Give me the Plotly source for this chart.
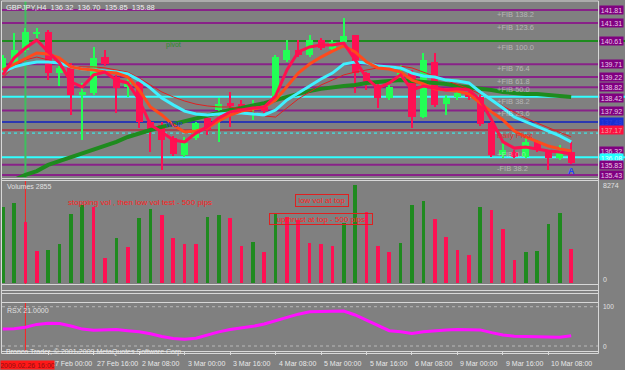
import plotly.graph_objects as go

W, H = 625, 370

# ---------------- data ----------------
bars = list(range(51))
opens = [139.41, 139.68, 140.26, 140.88, 140.96, 139.37, 139.68, 138.52, 138.60, 139.99,
         139.22, 138.83, 139.03, 137.48, 137.36, 136.86, 136.20, 136.86, 137.63, 137.94,
         138.21, 138.17, 138.02, 138.06, 138.33, 139.88, 140.26, 140.07, 140.65, 140.30,
         140.57, 140.84, 139.37, 138.91, 138.41, 139.10, 139.37, 137.67, 139.80, 138.17,
         138.45, 138.60, 138.45, 137.44, 136.20, 136.32, 136.13, 136.71, 136.32, 136.09,
         136.32]
highs = [140.07, 140.92, 141.11, 141.11, 141.04, 139.64, 139.76, 138.99, 140.38, 140.26,
         139.30, 139.22, 139.10, 137.56, 137.48, 136.94, 136.90, 137.48, 137.75, 138.41,
         138.64, 138.33, 138.33, 138.21, 140.07, 140.65, 140.65, 140.84, 140.73, 140.65,
         141.50, 140.84, 139.41, 138.95, 138.91, 139.68, 139.49, 140.15, 140.15, 138.52,
         138.72, 138.79, 138.52, 137.48, 136.71, 136.40, 136.86, 136.78, 136.40, 136.59,
         136.70]
lows = [139.30, 139.61, 140.19, 140.65, 139.10, 138.87, 137.75, 136.78, 138.52, 139.64,
        137.83, 138.45, 137.25, 136.32, 135.62, 136.16, 136.13, 136.78, 136.98, 136.71,
        137.29, 137.83, 137.56, 137.83, 138.25, 139.80, 139.99, 139.99, 140.26, 140.26,
        140.49, 138.60, 138.72, 138.02, 138.33, 139.03, 137.25, 137.63, 138.06, 137.75,
        138.33, 138.33, 137.32, 136.13, 136.09, 136.09, 136.09, 136.32, 135.62, 136.01,
        135.85]
closes = [139.95, 140.26, 140.96, 140.96, 139.37, 139.57, 138.52, 138.64, 139.95, 139.72,
          138.79, 139.03, 137.48, 137.17, 136.78, 136.24, 136.67, 137.44, 137.17, 138.17,
          138.10, 137.87, 138.17, 137.90, 139.99, 140.26, 140.07, 140.65, 140.34, 140.57,
          140.80, 139.37, 139.03, 138.41, 138.83, 139.41, 137.67, 139.88, 138.14, 138.41,
          138.60, 138.45, 137.40, 136.20, 136.40, 136.13, 136.71, 136.40, 136.09, 136.28,
          135.88]
volumes = [6450, 6760, 5140, 2720, 2780, 3280, 5810, 6590, 6450, 2100,
           3790, 3060, 5470, 6260, 5750, 3760, 3330, 3300, 5580, 5730,
           5500, 3140, 3450, 2580, 5900, 5610, 5330, 3370, 3310, 3140,
           5050, 8274, 6030, 3140, 2660, 3390, 6590, 6930, 5390, 3920,
           2800, 2380, 6450, 6170, 4570, 1960, 2580, 2740, 4990, 5920,
           2855]
ma_fast = [139.30, 139.95, 140.34, 140.65, 140.19, 139.76, 139.03, 138.83, 139.30, 139.41,
           139.10, 138.99, 138.33, 137.36, 137.09, 136.78, 136.71, 137.05, 137.29, 137.63,
           137.87, 137.94, 138.02, 138.06, 138.48, 139.49, 140.19, 140.38, 140.46, 140.46,
           140.53, 139.88, 139.18, 138.79, 138.99, 139.30, 138.72, 138.87, 138.79, 138.72,
           138.76, 138.72, 138.33, 137.56, 136.71, 136.47, 136.51, 136.44, 136.36, 136.32,
           136.24]
ma_orange = [139.49, 139.72, 139.95, 140.15, 140.11, 139.95, 139.61, 139.53, 139.49, 139.41,
             139.37, 139.22, 138.72, 138.06, 137.75, 137.36, 137.09, 137.13, 137.25, 137.52,
             137.75, 137.90, 137.98, 138.06, 138.33, 138.87, 139.37, 139.72, 139.99, 140.22,
             140.42, 140.19, 139.80, 139.57, 139.53, 139.41, 139.10, 138.95, 138.76, 138.72,
             138.68, 138.56, 138.21, 137.87, 137.56, 137.13, 136.90, 136.71, 136.55, 136.44,
             136.36]
ma_thin = [139.18, 139.64, 139.88, 139.99, 139.88, 139.72, 139.61, 139.61, 139.61, 139.57,
           139.49, 139.41, 139.18, 138.91, 138.64, 138.45, 138.29, 138.17, 138.10, 138.06,
           138.06, 137.98, 137.87, 137.71, 137.67, 138.02, 138.37, 138.64, 138.91, 139.10,
           139.30, 139.41, 139.49, 139.57, 139.61, 139.64, 139.57, 139.41, 139.26, 139.10,
           138.91, 138.76, 138.56, 138.33, 138.10, 137.87, 137.63, 137.44, 137.25, 137.09,
           136.90]
ma_cyan = [139.41, 139.61, 139.72, 139.80, 139.80, 139.76, 139.61, 139.53, 139.49, 139.45,
           139.41, 139.34, 139.10, 138.79, 138.41, 138.14, 137.90, 137.79, 137.75, 137.79,
           137.83, 137.83, 137.79, 137.75, 137.94, 138.33, 138.60, 138.87, 139.14, 139.37,
           139.72, 139.80, 139.76, 139.64, 139.61, 139.57, 139.37, 139.26, 139.22, 139.10,
           139.06, 138.99, 138.64, 138.33, 138.02, 137.67, 137.48, 137.32, 137.13, 136.94,
           136.71]
ma_green = [135.00, 135.24, 135.43, 135.58, 135.82, 135.97, 136.13, 136.28, 136.44, 136.55,
            136.71, 136.90, 137.05, 137.17, 137.29, 137.40, 137.52, 137.63, 137.75, 137.83,
            137.94, 138.02, 138.10, 138.21, 138.33, 138.45, 138.60, 138.68, 138.76, 138.83,
            138.87, 138.91, 138.99, 139.03, 139.06, 139.10, 139.06, 139.03, 138.99, 138.95,
            138.87, 138.83, 138.76, 138.72, 138.64, 138.60, 138.56, 138.56, 138.52, 138.48,
            138.45]
rsx = [43, 44, 48, 55, 58, 57, 51, 43, 40, 41,
       42, 39, 36, 31, 24, 19, 17, 20, 28, 36,
       42, 46, 50, 56, 64, 73, 81, 87, 88, 89,
       89, 79, 66, 51, 39, 36, 32, 36, 39, 41,
       42, 42, 41, 34, 28, 25, 24, 24, 22, 22,
       26]

tick_bars = [4, 8, 12, 16, 20, 24, 28, 32, 36, 40, 44, 48]
tick_labels = ["27 Feb 00:00", "27 Feb 16:00", "2 Mar 08:00", "3 Mar 00:00", "3 Mar 16:00",
               "4 Mar 08:00", "5 Mar 00:00", "5 Mar 16:00", "6 Mar 08:00", "9 Mar 00:00",
               "9 Mar 16:00", "10 Mar 08:00"]

purple_levels = [141.81, 141.31, 139.71, 139.22, 138.82, 137.92, 135.83, 135.43]
green_level = 140.61
cyan_levels = [138.46, 136.12]
blue_level = 137.48
pivot_level = 137.17
dotted_cyan_level = 137.05

price_labels = [141.81, 141.31, 140.61, 139.71, 139.22, 138.82, 138.42, 137.92,
                137.48, 137.17, 136.36, 136.10, 135.83, 135.43]
price_label_texts = ["141.81", "141.31", "140.61", "139.71", "139.22", "138.82", "138.42",
                     "137.92", "137.48", "137.17", "136.32", "136.08", "135.83", "135.43"]
price_label_kind = ["p", "p", "p", "p", "p", "p", "p", "p", "b", "r", "p", "c", "p", "p"]

fib_texts = ["+FIB 138.2", "+FIB 123.6", "+FIB 100.0", "+FIB 76.4", "+FIB 61.8", "+FIB 50.0",
             "+FIB 38.2", "+FIB 23.6", "Daily Pivot", "+FIB 0.0", "-FIB 38.2"]
fib_prices = [141.63, 141.14, 140.35, 139.56, 139.06, 138.72, 138.29, 137.79, 136.94, 136.24, 135.70]

crosshair_bar = 2
title_text = "GBPJPY,H4  136.32  136.70  135.85  135.88"

# ---------------- style helpers ----------------
def fx(px):
    return px / W

def fy(py):
    return 1 - py / H

BG = "#808080"
BULL = "#22FF55"
BEAR = "#FF1053"
VGREEN = "#1F8A1F"
LIGHT = "#D8D8D8"
PURPLE = "#882288"
FONT = "Liberation Sans"

fig = go.Figure()

# candles (wicks + bodies)
colors = [BULL if c >= o else BEAR for o, c in zip(opens, closes)]
fig.add_trace(go.Bar(x=bars, y=[h - l for h, l in zip(highs, lows)], base=lows,
                     width=0.11, marker=dict(color=colors, line=dict(width=0)),
                     xaxis="x", yaxis="y", hoverinfo="skip"))
fig.add_trace(go.Bar(x=bars, y=[max(abs(c - o), 0.02) for o, c in zip(opens, closes)],
                     base=[min(o, c) for o, c in zip(opens, closes)],
                     width=0.62, marker=dict(color=colors, line=dict(width=0)),
                     xaxis="x", yaxis="y", hoverinfo="skip"))

# moving averages
fig.add_trace(go.Scatter(x=bars, y=ma_green, mode="lines", line=dict(color="#1E8B1E", width=4),
                         xaxis="x", yaxis="y"))
fig.add_trace(go.Scatter(x=bars, y=ma_thin, mode="lines", line=dict(color="#E02020", width=1),
                         xaxis="x", yaxis="y"))
fig.add_trace(go.Scatter(x=bars, y=ma_cyan, mode="lines", line=dict(color="#40F0FF", width=3),
                         xaxis="x", yaxis="y"))
fig.add_trace(go.Scatter(x=bars, y=ma_orange, mode="lines", line=dict(color="#FF4A1C", width=3),
                         xaxis="x", yaxis="y"))
fig.add_trace(go.Scatter(x=bars, y=ma_fast, mode="lines", line=dict(color="#FF1050", width=3),
                         xaxis="x", yaxis="y"))

# volumes
vcol = [VGREEN] + [VGREEN if volumes[i] > volumes[i - 1] else BEAR for i in range(1, len(volumes))]
fig.add_trace(go.Bar(x=bars, y=volumes, width=0.32, marker=dict(color=vcol, line=dict(width=0)),
                     xaxis="x", yaxis="y2", hoverinfo="skip"))

# RSX
fig.add_trace(go.Scatter(x=bars, y=rsx, mode="lines", line=dict(color="#FF10FF", width=3),
                         xaxis="x", yaxis="y3"))

shapes = []
# level lines
for p in purple_levels:
    shapes.append(dict(type="line", xref="paper", yref="y", x0=fx(2), x1=fx(598), y0=p, y1=p,
                       line=dict(color=PURPLE, width=2), layer="below"))
shapes.append(dict(type="line", xref="paper", yref="y", x0=fx(2), x1=fx(625), y0=green_level,
                   y1=green_level, line=dict(color="#1E8B1E", width=2), layer="below"))
for p in cyan_levels:
    shapes.append(dict(type="line", xref="paper", yref="y", x0=fx(2), x1=fx(625), y0=p, y1=p,
                       line=dict(color="#30FFFF", width=2), layer="below"))
shapes.append(dict(type="line", xref="paper", yref="y", x0=fx(2), x1=fx(598), y0=blue_level,
                   y1=blue_level, line=dict(color="#1020C0", width=1.5), layer="below"))
shapes.append(dict(type="line", xref="paper", yref="y", x0=fx(2), x1=fx(598), y0=pivot_level,
                   y1=pivot_level, line=dict(color="#B03040", width=1.5), layer="below"))
shapes.append(dict(type="line", xref="paper", yref="y", x0=fx(2), x1=fx(598), y0=dotted_cyan_level,
                   y1=dotted_cyan_level, line=dict(color="#30FFFF", width=1, dash="dot"), layer="below"))
# crosshair
shapes.append(dict(type="line", xref="x", yref="paper", x0=crosshair_bar, x1=crosshair_bar,
                   y0=fy(178), y1=fy(1), line=dict(color="#3FBF5F", width=2), layer="below"))
shapes.append(dict(type="line", xref="x", yref="paper", x0=crosshair_bar, x1=crosshair_bar,
                   y0=fy(284), y1=fy(180), line=dict(color="#FF2020", width=1), layer="below"))
shapes.append(dict(type="line", xref="x", yref="paper", x0=crosshair_bar, x1=crosshair_bar,
                   y0=fy(351), y1=fy(302), line=dict(color="#FF2020", width=1), layer="below"))
# RSX dotted levels
for lv in [100, 0]:
    shapes.append(dict(type="line", xref="paper", yref="y3", x0=fx(2), x1=fx(598), y0=lv, y1=lv,
                       line=dict(color="#B8B8B8", width=1, dash="dot"), layer="below"))
# pane borders
for yy in [1, 178.5, 180.5, 284.5, 290.5, 293.5, 302.5, 351.5, 353.5]:
    shapes.append(dict(type="line", xref="paper", yref="paper", x0=fx(1.5), x1=fx(598.5),
                       y0=fy(yy), y1=fy(yy), line=dict(color=LIGHT, width=1)))
for xx in [1.5, 598.5]:
    shapes.append(dict(type="line", xref="paper", yref="paper", x0=fx(xx), x1=fx(xx),
                       y0=fy(353.5), y1=fy(1), line=dict(color=LIGHT, width=1)))

ann = []
ann.append(dict(text=title_text, xref="paper", yref="paper", x=fx(4), y=fy(7), xanchor="left",
                yanchor="middle", showarrow=False, font=dict(family=FONT, size=7.5, color="#F0F0F0")))
# fib texts
for t, p in zip(fib_texts, fib_prices):
    col = "#E03030" if "Pivot" in t else "rgba(225,225,225,0.55)"
    ann.append(dict(text=t, xref="x", yref="y", x=43.3, y=p, xanchor="left", yanchor="middle",
                    showarrow=False, font=dict(family=FONT, size=7.5, color=col)))
ann.append(dict(text="pivot", xref="x", yref="y", x=14.2, y=140.46, xanchor="left", yanchor="middle",
                showarrow=False, font=dict(family=FONT, size=7, color="#2E8B2E")))
ann.append(dict(text="WOP", xref="x", yref="y", x=14.2, y=137.40, xanchor="left", yanchor="middle",
                showarrow=False, font=dict(family=FONT, size=7, color="#2030D0")))
ann.append(dict(text="<b>A</b>", xref="x", yref="y", x=50, y=135.60, xanchor="center", yanchor="middle",
                showarrow=False, font=dict(family=FONT, size=9, color="#2040FF")))
# right price labels
kind_bg = {"p": "#800080", "b": "#1A2ED0", "r": "#FF1040", "c": "#20FFFF"}
kind_fg = {"p": "#E8C8E8", "b": "#3040E0", "r": "#F0A0A0", "c": "#E0FFFF"}
for p, t, k in zip(price_labels, price_label_texts, price_label_kind):
    ann.append(dict(text=t, xref="paper", yref="y", x=fx(611.5), y=p, xanchor="center",
                    yanchor="middle", showarrow=False, bgcolor=kind_bg[k], width=23, height=8,
                    borderpad=0, font=dict(family=FONT, size=7, color=kind_fg[k])))
# volume pane texts
ann.append(dict(text="Volumes 2855", xref="paper", yref="paper", x=fx(5), y=fy(187), xanchor="left",
                yanchor="middle", showarrow=False, font=dict(family=FONT, size=7, color="#E0E0E0")))
ann.append(dict(text="8274", xref="paper", yref="paper", x=fx(601), y=fy(185), xanchor="left",
                yanchor="middle", showarrow=False, font=dict(family=FONT, size=7, color="#E0E0E0")))
ann.append(dict(text="0", xref="paper", yref="paper", x=fx(601), y=fy(279), xanchor="left",
                yanchor="middle", showarrow=False, font=dict(family=FONT, size=7, color="#E0E0E0")))
ann.append(dict(text="stopping vol , then low vol test - 500 pips", xref="paper", yref="paper",
                x=fx(66), y=fy(202), xanchor="left", yanchor="middle", showarrow=False,
                font=dict(family=FONT, size=8, color="#FF2020")))
ann.append(dict(text="low vol at top", xref="paper", yref="paper", x=fx(321.5), y=fy(200.5),
                xanchor="center", yanchor="middle", showarrow=False, width=52, height=11,
                bordercolor="#E02020", borderwidth=1, borderpad=0,
                font=dict(family=FONT, size=8, color="#FF2020")))
ann.append(dict(text="upthrust at top - 500 pips", xref="paper", yref="paper", x=fx(321), y=fy(218.5),
                xanchor="center", yanchor="middle", showarrow=False, width=102, height=10,
                bordercolor="#E02020", borderwidth=1, borderpad=0,
                font=dict(family=FONT, size=8, color="#FF2020")))
# RSX texts
ann.append(dict(text="RSX 21.0000", xref="paper", yref="paper", x=fx(5), y=fy(310), xanchor="left",
                yanchor="middle", showarrow=False, font=dict(family=FONT, size=7, color="#E0E0E0")))
ann.append(dict(text="100", xref="paper", yref="y3", x=fx(601), y=100, xanchor="left",
                yanchor="middle", showarrow=False, font=dict(family=FONT, size=6.5, color="#E0E0E0")))
ann.append(dict(text="0", xref="paper", yref="y3", x=fx(601), y=0, xanchor="left",
                yanchor="middle", showarrow=False, font=dict(family=FONT, size=6.5, color="#E0E0E0")))
ann.append(dict(text="Bronco Trader, © 2001-2009 MetaQuotes Software Corp.", xref="paper", yref="paper",
                x=fx(4), y=fy(352), xanchor="left", yanchor="middle", showarrow=False,
                font=dict(family=FONT, size=7, color="#E8E8E8")))
# time labels
for b, t in zip(tick_bars, tick_labels):
    ann.append(dict(text=t, xref="x", yref="paper", x=b, y=fy(363.5), xanchor="left",
                    yanchor="middle", xshift=1, showarrow=False,
                    font=dict(family=FONT, size=7, color="#E8E8E8")))
ann.append(dict(text="2009.02.26 16:00", xref="paper", yref="paper", x=fx(0), y=fy(364.5),
                xanchor="left", yanchor="middle", showarrow=False, bgcolor="#FF1818", width=53,
                height=8, borderpad=0, font=dict(family=FONT, size=7, color="#901010")))

fig.update_layout(
    width=W, height=H, margin=dict(l=0, r=0, t=0, b=0),
    paper_bgcolor=BG, plot_bgcolor=BG, showlegend=False, barmode="overlay", bargap=0,
    xaxis=dict(domain=[fx(2), fx(598)], range=[-0.06, 52.36], anchor="y3", showgrid=False,
               zeroline=False, showticklabels=False, ticks="outside", ticklen=3,
               tickcolor=LIGHT, tickvals=tick_bars, showline=False, fixedrange=True),
    yaxis=dict(domain=[fy(177), fy(1)], range=[135.352, 142.158], showgrid=False, zeroline=False,
               showticklabels=False, anchor="x", fixedrange=True),
    yaxis2=dict(domain=[fy(284), fy(180)], range=[-84, 8696], showgrid=False, zeroline=False,
                showticklabels=False, anchor="x", fixedrange=True),
    yaxis3=dict(domain=[fy(351), fy(302)], range=[-12.7, 112], showgrid=False, zeroline=False,
                showticklabels=False, anchor="x", fixedrange=True),
    shapes=shapes, annotations=ann,
)

fig.write_html("out.html")
